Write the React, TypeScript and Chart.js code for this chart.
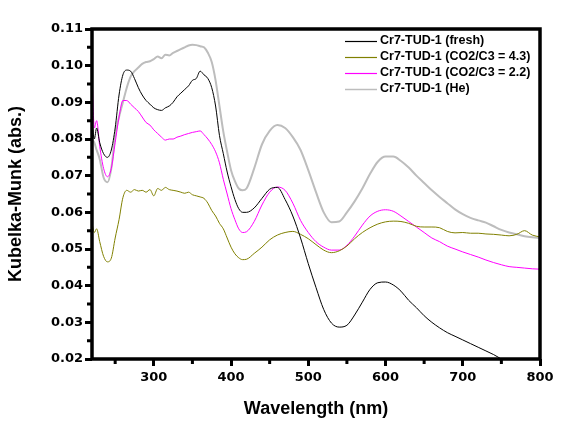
import React, { useEffect, useRef } from "react";
import { Chart, registerables } from "chart.js";

Chart.register(...registerables);

const wavelengths = [
  220, 223, 226, 230, 235, 240, 245, 250, 255, 260, 265, 270, 275, 280, 285, 290, 295, 300, 305, 310,
  315, 320, 325, 330, 335, 340, 345, 350, 355, 360, 365, 370, 375, 380, 385, 390, 395, 400, 405, 410,
  415, 420, 430, 440, 450, 460, 470, 480, 490, 500, 510, 520, 530, 540, 550, 560, 570, 580, 590, 600,
  610, 620, 630, 640, 650, 660, 670, 680, 690, 700, 710, 720, 730, 740, 750, 760, 770, 780, 790, 800,
];

const fresh = [
  0.085, 0.08, 0.083, 0.079, 0.076, 0.075, 0.077, 0.083, 0.092, 0.0975, 0.0988, 0.0985, 0.0965, 0.094, 0.092, 0.0905, 0.0895, 0.0885, 0.088, 0.0878,
  0.0885, 0.089, 0.09, 0.0915, 0.0925, 0.0935, 0.0945, 0.096, 0.0965, 0.0985, 0.0975, 0.0965, 0.094, 0.089, 0.081, 0.076, 0.071, 0.067, 0.0635, 0.061,
  0.06, 0.06, 0.0612, 0.0638, 0.0663, 0.0668, 0.0635, 0.059, 0.053, 0.046, 0.0395, 0.0335, 0.0298, 0.0287, 0.0292, 0.032, 0.0355, 0.039, 0.0408, 0.041,
  0.0402, 0.0385, 0.036, 0.034, 0.0318, 0.03, 0.0285, 0.0272, 0.0262, 0.0252, 0.0242, 0.0232, 0.0222, 0.0212, 0.02, 0.019, 0.018, 0.017, 0.016, 0.015,
];

const co2c3_43 = [
  0.057, 0.0545, 0.0555, 0.052, 0.048, 0.0465, 0.0475, 0.053, 0.058, 0.064, 0.066, 0.0655, 0.0662, 0.0658, 0.066, 0.0655, 0.0662, 0.0645, 0.0665, 0.066,
  0.0668, 0.0662, 0.066, 0.0658, 0.0655, 0.0652, 0.0655, 0.0648, 0.0645, 0.0642, 0.0638, 0.0625, 0.0605, 0.059, 0.057, 0.0555, 0.053, 0.0505, 0.0487, 0.0476,
  0.0471, 0.0472, 0.0488, 0.0505, 0.0525, 0.0538, 0.0545, 0.0548, 0.054, 0.0528, 0.0512, 0.0497, 0.049, 0.0495, 0.0508, 0.0528, 0.0545, 0.0558, 0.0568, 0.0574,
  0.0576, 0.0575, 0.057, 0.0562, 0.056, 0.056, 0.0558, 0.0548, 0.0544, 0.0545, 0.0543, 0.0543, 0.0541, 0.054, 0.0538, 0.0536, 0.054, 0.055, 0.0538, 0.0533,
];

const co2c3_22 = [
  0.098, 0.083, 0.085, 0.078, 0.072, 0.0697, 0.072, 0.079, 0.086, 0.0905, 0.0905, 0.0895, 0.0885, 0.0875, 0.086, 0.0845, 0.0838, 0.0825, 0.0815, 0.0805,
  0.0797, 0.08, 0.08, 0.0805, 0.0808, 0.0812, 0.0815, 0.0818, 0.082, 0.0822, 0.0812, 0.08, 0.0785, 0.0765, 0.0735, 0.069, 0.065, 0.061, 0.058, 0.0555,
  0.0545, 0.0547, 0.0575, 0.062, 0.0655, 0.0669, 0.066, 0.0625, 0.0578, 0.0545, 0.052, 0.0505, 0.0497, 0.0497, 0.051, 0.0535, 0.0565, 0.059, 0.0603, 0.0607,
  0.0603, 0.059, 0.0575, 0.056, 0.0545, 0.053, 0.052, 0.0508, 0.05, 0.0492, 0.0485, 0.0478, 0.047, 0.0463, 0.0457, 0.0452, 0.045, 0.0448, 0.0446, 0.0445,
];

const he = [
  0.08, 0.079, 0.077, 0.0745, 0.0695, 0.0682, 0.072, 0.081, 0.086, 0.09, 0.094, 0.097, 0.0985, 0.0995, 0.1005, 0.101, 0.1012, 0.1018, 0.1025, 0.102,
  0.103, 0.1028, 0.1035, 0.104, 0.1045, 0.105, 0.1055, 0.1057, 0.1056, 0.1053, 0.105, 0.1035, 0.101, 0.096, 0.089, 0.082, 0.0765, 0.0715, 0.0685, 0.0665,
  0.066, 0.0665, 0.072, 0.0785, 0.0822, 0.0838, 0.083, 0.0805, 0.077, 0.0715, 0.0655, 0.06, 0.0573, 0.0575, 0.06, 0.063, 0.0665, 0.0705, 0.0738, 0.0752,
  0.0752, 0.074, 0.0722, 0.07, 0.068, 0.066, 0.0642, 0.0625, 0.0608, 0.0595, 0.0585, 0.0578, 0.0572, 0.0562, 0.0552, 0.0545, 0.054, 0.0535, 0.0532, 0.053,
];

const seriesLabels = [
  "Cr7-TUD-1 (fresh)",
  "Cr7-TUD-1 (CO2/C3 = 4.3)",
  "Cr7-TUD-1 (CO2/C3 = 2.2)",
  "Cr7-TUD-1 (He)",
];
const seriesColors = ["#000000", "#808000", "#ff00ff", "#bdbdbd"];
const seriesWidths = [1, 1, 1, 2];
const seriesValues = [fresh, co2c3_43, co2c3_22, he];

const xMin = 220;
const xMax = 800;
const xStep = 100;
const yMin = 0.02;
const yMax = 0.11;
const yStep = 0.01;

const frameAndLegend = {
  id: "frameAndLegend",
  afterDraw(chart: any) {
    const ctx = chart.ctx;
    const a = chart.chartArea;
    const xs = chart.scales.x;
    const ys = chart.scales.y;
    ctx.save();
    ctx.strokeStyle = "#000";
    ctx.lineWidth = 3.5;
    ctx.strokeRect(a.left, a.top, a.right - a.left, a.bottom - a.top);
    ctx.lineWidth = 3;
    ctx.beginPath();
    for (let v = xMin - (xMin % xStep) + xStep / 2; v < xMax; v += xStep) {
      if (v <= xMin) continue;
      const px = xs.getPixelForValue(v);
      ctx.moveTo(px, a.bottom);
      ctx.lineTo(px, a.bottom + 5);
    }
    for (let k = 0; k < Math.round((yMax - yMin) / yStep); k++) {
      const v = yMin + yStep * (k + 0.5);
      const py = ys.getPixelForValue(v);
      ctx.moveTo(a.left, py);
      ctx.lineTo(a.left - 5, py);
    }
    ctx.stroke();
    ctx.font = "bold 12.5px 'Liberation Sans', Arial, sans-serif";
    ctx.textBaseline = "middle";
    ctx.textAlign = "left";
    for (let i = 0; i < seriesLabels.length; i++) {
      const y = Math.round(a.top + 12 + i * 16);
      ctx.beginPath();
      ctx.strokeStyle = seriesColors[i];
      ctx.lineWidth = seriesWidths[i] > 1 ? 1.5 : 1.2;
      ctx.moveTo(a.left + 253, y + 0.5);
      ctx.lineTo(a.left + 285, y + 0.5);
      ctx.stroke();
      ctx.fillStyle = "#000";
      ctx.fillText(seriesLabels[i], a.left + 288, y);
    }
    ctx.restore();
  },
};

export default function App() {
  const ref = useRef<HTMLCanvasElement | null>(null);
  useEffect(() => {
    document.body.style.margin = "0";
    const canvas = ref.current!;
    const chart = new Chart(canvas, {
      type: "line",
      data: {
        datasets: seriesValues.map((vals, i) => ({
          label: seriesLabels[i],
          data: wavelengths.map((w, j) => ({ x: w, y: vals[j] })),
          borderColor: seriesColors[i],
          backgroundColor: seriesColors[i],
          borderWidth: seriesWidths[i],
          pointRadius: 0,
          fill: false,
          cubicInterpolationMode: "monotone" as const,
        })),
      },
      options: {
        responsive: false,
        animation: false,
        layout: { padding: { top: 29, right: 30, left: 0, bottom: 0 } },
        plugins: { legend: { display: false }, tooltip: { enabled: false } },
        scales: {
          x: {
            type: "linear",
            min: xMin,
            max: xMax,
            afterFit: (s: any) => {
              s.height = 68;
            },
            ticks: {
              stepSize: xStep,
              includeBounds: false,
              autoSkip: false,
              maxRotation: 0,
              padding: 4,
              color: "#000",
              font: { family: "'DejaVu Sans'", weight: "bold", size: 13 },
            },
            grid: {
              drawOnChartArea: false,
              drawTicks: true,
              tickLength: 7,
              tickWidth: 3,
              tickColor: "#000",
            },
            border: { display: false },
            title: {
              display: true,
              text: "Wavelength (nm)",
              color: "#000",
              font: { family: "'Liberation Sans', Arial", weight: "bold", size: 18 },
              padding: { top: 0, bottom: 7 },
            },
          },
          y: {
            type: "linear",
            min: yMin,
            max: yMax,
            afterFit: (s: any) => {
              s.width = 92;
            },
            ticks: {
              stepSize: yStep,
              autoSkip: false,
              padding: 2,
              color: "#000",
              font: { family: "'DejaVu Sans'", weight: "bold", size: 13 },
              callback: (v: any) => Number(v).toFixed(2),
            },
            grid: {
              drawOnChartArea: false,
              drawTicks: true,
              tickLength: 7,
              tickWidth: 3,
              tickColor: "#000",
            },
            border: { display: false },
            title: {
              display: true,
              text: "Kubelka-Munk (abs.)",
              color: "#000",
              font: { family: "'Liberation Sans', Arial", weight: "bold", size: 18 },
              padding: { top: 5, bottom: 0 },
            },
          },
        },
      },
      plugins: [frameAndLegend],
    });
    return () => chart.destroy();
  }, []);
  return (
    <div style={{ width: 570, height: 427 }}>
      <canvas ref={ref} width={570} height={427} style={{ display: "block" }} />
    </div>
  );
}
